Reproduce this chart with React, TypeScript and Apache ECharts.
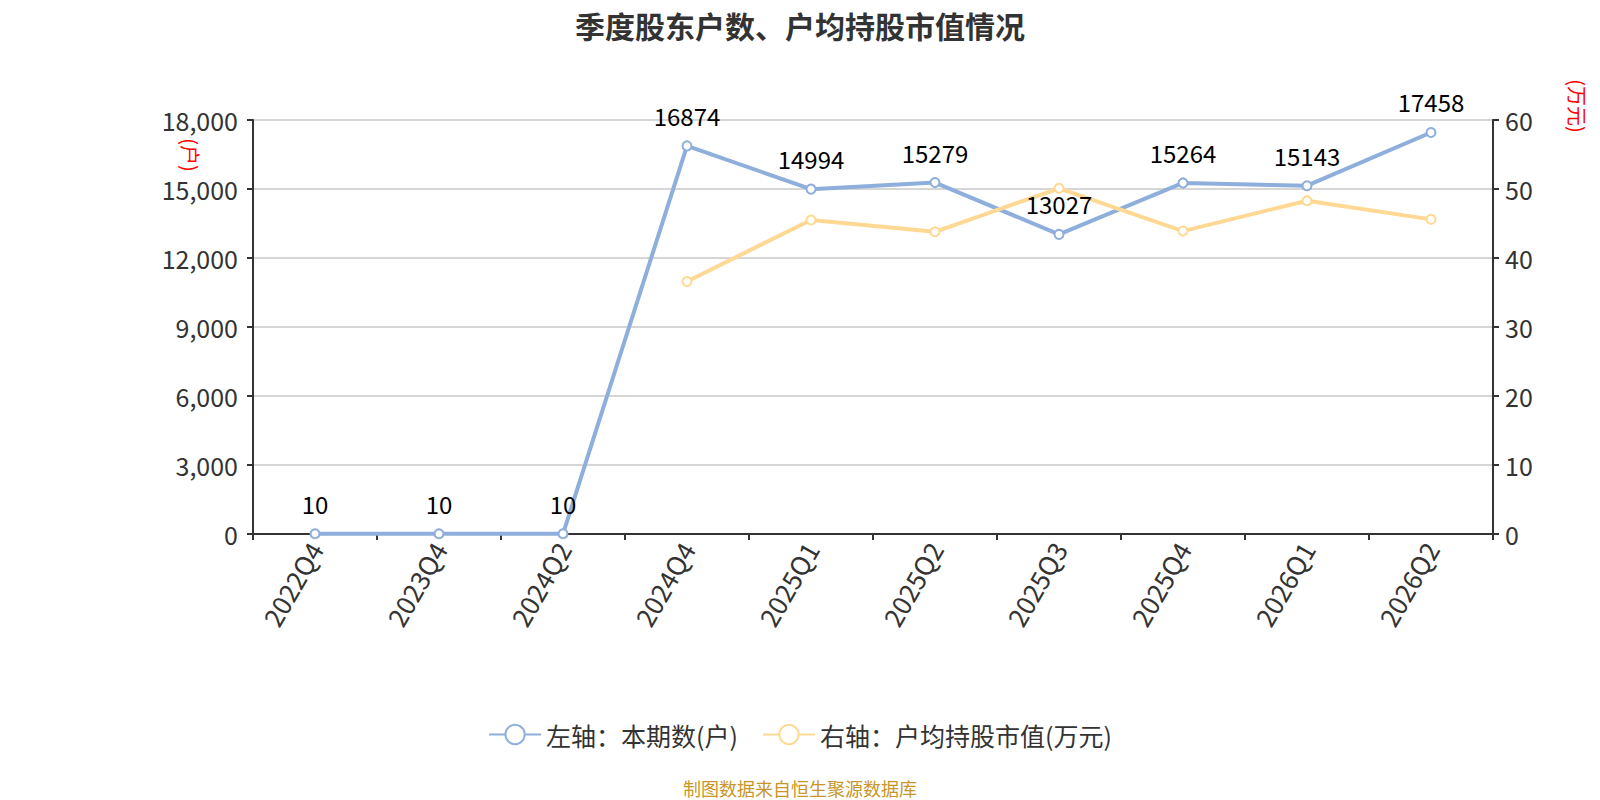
import React, { useEffect, useRef } from "react";
import * as echarts from "echarts";

const categories = ["2022Q4", "2023Q4", "2024Q2", "2024Q4", "2025Q1", "2025Q2", "2025Q3", "2025Q4", "2026Q1", "2026Q2"];
const holders = [10, 10, 10, 16874, 14994, 15279, 13027, 15264, 15143, 17458];
const avgValue = [null, null, null, 36.6, 45.5, 43.8, 50.1, 43.9, 48.3, 45.6];
const leftName = "左轴：本期数(户)";
const rightName = "右轴：户均持股市值(万元)";
const titleText = "季度股东户数、户均持股市值情况";
const sourceText = "制图数据来自恒生聚源数据库";

const FONT = "'Noto Sans CJK SC', 'Noto Sans', sans-serif";

export default function App() {
  const ref = useRef<HTMLDivElement>(null);
  useEffect(() => {
    document.body.style.margin = "0";
    const chart = echarts.init(ref.current!, null, { renderer: "svg" });
    chart.setOption({
      animation: false,
      textStyle: { fontFamily: FONT },
      title: {
        text: titleText,
        left: "center",
        top: 5,
        textStyle: { fontSize: 30, fontWeight: "bold", color: "#333", fontFamily: FONT },
      },
      legend: {
        bottom: 48,
        left: "center",
        itemWidth: 52,
        itemHeight: 24,
        itemGap: 24,
        textStyle: { fontSize: 25, color: "#333", fontFamily: FONT },
        data: [leftName, rightName],
      },
      grid: { left: 253, right: 107, top: 120, bottom: 266 },
      xAxis: {
        type: "category",
        data: categories,
        boundaryGap: true,
        axisLine: { lineStyle: { color: "#333", width: 2 } },
        axisTick: { show: true, length: 6, lineStyle: { color: "#333", width: 2 } },
        axisLabel: { rotate: 60, fontSize: 26, color: "#333", margin: 10, fontFamily: FONT },
      },
      yAxis: [
        {
          type: "value",
          min: 0,
          max: 18000,
          interval: 3000,
          position: "left",
          axisLine: { show: true, lineStyle: { color: "#333", width: 2 } },
          axisTick: { show: true, length: 6, lineStyle: { color: "#333", width: 2 } },
          axisLabel: {
            fontSize: 25,
            color: "#333",
            margin: 15,
            fontFamily: FONT,
            formatter: (v: number) => v.toLocaleString("en-US"),
          },
          splitLine: { show: true, lineStyle: { color: "#c8c8c8", width: 1.5 } },
        },
        {
          type: "value",
          min: 0,
          max: 60,
          interval: 10,
          position: "right",
          axisLine: { show: true, lineStyle: { color: "#333", width: 2 } },
          axisTick: { show: true, length: 6, lineStyle: { color: "#333", width: 2 } },
          axisLabel: { fontSize: 25, color: "#333", margin: 12, fontFamily: FONT },
          splitLine: { show: false },
        },
      ],
      graphic: [
        {
          type: "text",
          x: 190,
          y: 155,
          rotation: -Math.PI / 2,
          style: {
            text: "(户)",
            fontSize: 20,
            fill: "#ff0000",
            fontFamily: FONT,
            align: "center",
            verticalAlign: "middle",
          },
        },
        {
          type: "text",
          x: 1577,
          y: 106,
          rotation: -Math.PI / 2,
          style: {
            text: "(万元)",
            fontSize: 20,
            fill: "#ff0000",
            fontFamily: FONT,
            align: "center",
            verticalAlign: "middle",
          },
        },
        {
          type: "text",
          left: "center",
          top: 779,
          style: {
            text: sourceText,
            fontSize: 18,
            fill: "#c8962a",
            fontFamily: FONT,
          },
        },
      ],
      series: [
        {
          name: leftName,
          type: "line",
          yAxisIndex: 0,
          data: holders,
          symbol: "emptyCircle",
          symbolSize: 9,
          lineStyle: { color: "#8eaedc", width: 4 },
          itemStyle: { color: "#8eaedc", borderWidth: 2 },
          label: { show: true, position: "top", fontSize: 24, color: "#000", distance: 13, fontFamily: FONT },
        },
        {
          name: rightName,
          type: "line",
          yAxisIndex: 1,
          data: avgValue,
          symbol: "emptyCircle",
          symbolSize: 9,
          lineStyle: { color: "#ffd993", width: 4 },
          itemStyle: { color: "#ffd993", borderWidth: 2 },
          label: { show: false },
        },
      ],
    });
    return () => chart.dispose();
  }, []);
  return <div ref={ref} style={{ width: 1600, height: 800 }} />;
}
